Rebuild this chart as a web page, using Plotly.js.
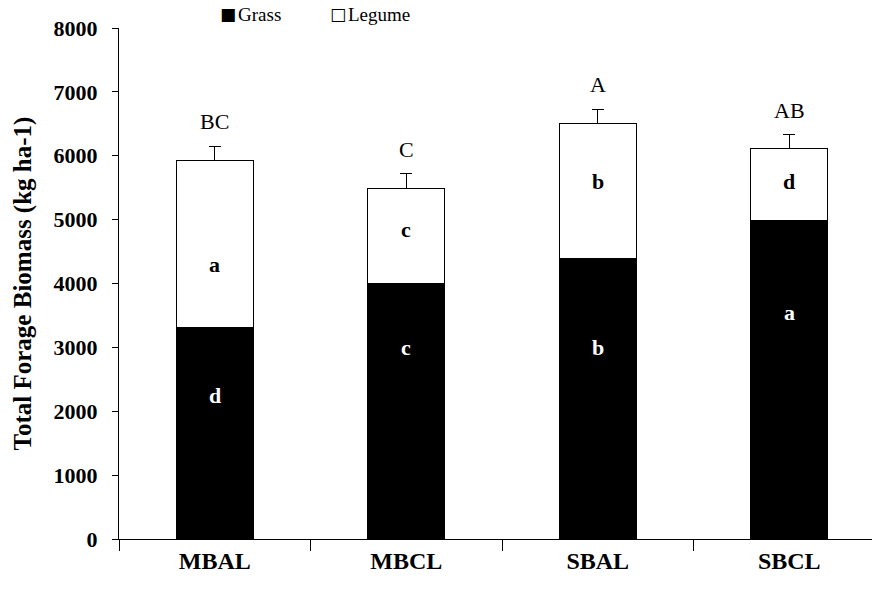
<!DOCTYPE html>
<html>
<head>
<meta charset="utf-8">
<script src="https://cdn.plot.ly/plotly-3.0.1.min.js"></script>
<style>html,body{margin:0;padding:0;background:#fff;}#chart{width:872px;height:592px;}</style>
</head>
<body>
<div id="chart"></div>
<script>
const categories = ['MBAL', 'MBCL', 'SBAL', 'SBCL'];
const grass = [3310, 4000, 4390, 4980];
const legume = [2610, 1495, 2120, 1130];
const totalErr = [225, 225, 220, 220];
const totalLetters = ['BC', 'C', 'A', 'AB'];
const grassLetters = ['d', 'c', 'b', 'a'];
const legumeLetters = ['a', 'c', 'b', 'd'];
const grassLetterY = [2250, 3000, 3000, 3540];
const legumeLetterY = [4290, 4840, 5600, 5600];
const yTicks = [0, 1000, 2000, 3000, 4000, 5000, 6000, 7000, 8000];
const legendNames = ['Grass', 'Legume'];
const legendSymbols = ['■', '□'];

const serif = 'Liberation Serif, Times New Roman, serif';

const traces = [
  {
    type: 'bar', name: legendNames[0], x: categories, y: grass, width: 0.40,
    marker: {color: '#000000', line: {color: '#000000', width: 1}}
  },
  {
    type: 'bar', name: legendNames[1], x: categories, y: legume, width: 0.40,
    marker: {color: '#ffffff', line: {color: '#000000', width: 1}},
    error_y: {type: 'data', symmetric: false, array: totalErr, arrayminus: totalErr.map(() => 0),
              color: '#000000', thickness: 1, width: 6}
  }
];

const annotations = [];
categories.forEach((c, i) => {
  annotations.push({x: c, y: grass[i] + legume[i] + totalErr[i], text: totalLetters[i], showarrow: false,
    yanchor: 'bottom', yshift: 10, font: {family: serif, size: 22, color: '#000'}});
  annotations.push({x: c, y: grassLetterY[i], text: '<b>' + grassLetters[i] + '</b>', showarrow: false,
    font: {family: serif, size: 22, color: '#fff'}});
  annotations.push({x: c, y: legumeLetterY[i], text: '<b>' + legumeLetters[i] + '</b>', showarrow: false,
    font: {family: serif, size: 22, color: '#000'}});
});
// legend drawn as text: symbol + label
const legendX = [0.1315, 0.2775];
legendNames.forEach((n, i) => {
  annotations.push({xref: 'paper', yref: 'paper', x: legendX[i], y: 1.0265, xanchor: 'left', yanchor: 'middle', showarrow: false,
    text: legendSymbols[i], font: {family: 'DejaVu Sans', size: 17, color: '#000'}});
  annotations.push({xref: 'paper', yref: 'paper', x: legendX[i] + 0.0235, y: 1.0265, xanchor: 'left', yanchor: 'middle', showarrow: false,
    text: n, font: {family: serif, size: 19, color: '#000'}});
});

const layout = {
  width: 872, height: 592,
  margin: {l: 119, r: 0, t: 28, b: 53},
  paper_bgcolor: '#fff', plot_bgcolor: '#fff',
  barmode: 'stack',
  showlegend: false,
  xaxis: {
    type: 'category', range: [-0.5, 3.432], showgrid: false, zeroline: false,
    showline: true, linecolor: '#000', linewidth: 1,
    ticks: 'outside', ticklen: 11, tickcolor: '#000', tickson: 'boundaries',
    tickfont: {family: serif, size: 24, color: '#000', weight: 'bold'}
  },
  yaxis: {
    range: [0, 8000], tickvals: yTicks, ticktext: yTicks.map(v => '<b>' + v + '</b>'),
    showgrid: false, zeroline: false, showline: true, linecolor: '#000', linewidth: 1,
    ticks: 'outside', ticklen: 6, tickcolor: '#000', ticklabelstandoff: 10,
    tickfont: {family: serif, size: 22, color: '#000'},
    title: {text: '<b>Total Forage Biomass (kg ha-1)</b>', font: {family: serif, size: 25, color: '#000'}, standoff: 14}
  },
  annotations: annotations
};

Plotly.newPlot('chart', traces, layout, {displayModeBar: false, staticPlot: true});
</script>
</body>
</html>
